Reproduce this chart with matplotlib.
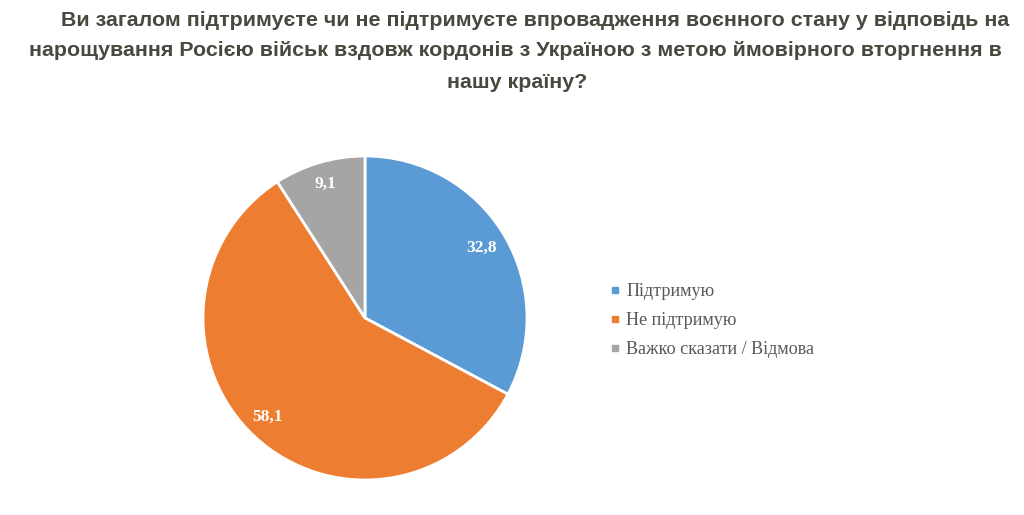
import matplotlib
matplotlib.use("Agg")
import matplotlib.pyplot as plt
from matplotlib.lines import Line2D
import numpy as np

categories = ["Підтримую", "Не підтримую", "Важко сказати / Відмова"]
values = [32.8, 58.1, 9.1]
value_labels = ["32,8", "58,1", "9,1"]
colors = ["#5B9BD5", "#ED7D31", "#A5A5A5"]
title_lines = [
    "Ви загалом підтримуєте чи не підтримуєте впровадження воєнного стану у відповідь на",
    "нарощування Росією військ вздовж кордонів з Україною з метою ймовірного вторгнення в",
    "нашу країну?",
]

fig = plt.figure(figsize=(10.24, 5.15), dpi=100)
W, H = 1024, 515

r = 162
cx, cy = 365, 318
ax = fig.add_axes([(cx - r) / W, 1 - (cy + r) / H, 2 * r / W, 2 * r / H])
wedges, texts = ax.pie(values, colors=colors, startangle=90, counterclock=False,
                       wedgeprops=dict(edgecolor="white", linewidth=2))
ax.set_xlim(-1, 1)
ax.set_ylim(-1, 1)
ax.set_aspect("equal")

dists = [0.84, 0.86, 0.86]
ang_off = [0, -2, 0]
for w, lab, d, o in zip(wedges, value_labels, dists, ang_off):
    ang = np.deg2rad((w.theta1 + w.theta2) / 2 + o)
    ax.text(d * np.cos(ang), d * np.sin(ang), lab, ha="center", va="center",
            color="white", fontsize=12.5, fontweight="bold", family="Liberation Serif")

title_x = [535, 515, 517]
for i, line in enumerate(title_lines):
    fig.text(title_x[i] / W, 1 - (20 + i * 31) / H, line, ha="center", va="center",
             fontsize=15.4, fontweight="bold", color="#48483f", family="Liberation Sans")

handles = [Line2D([0], [0], marker="s", linestyle="none", markersize=4.5,
                  markerfacecolor=c, markeredgecolor=c) for c in colors]
leg = fig.legend(handles, categories, loc="upper left",
                 bbox_to_anchor=(594 / W, 1 - 267 / H), frameon=False,
                 prop=dict(family="Liberation Serif", size=13.1),
                 handlelength=0.55, handletextpad=0.33, labelspacing=0.66)
for t in leg.get_texts():
    t.set_color("#595959")

fig.savefig("out.png", dpi=100, facecolor="white")
